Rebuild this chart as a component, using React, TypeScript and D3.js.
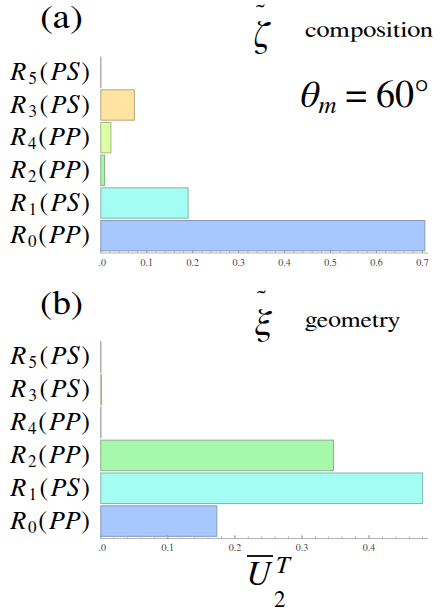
import React from "react";
import * as d3 from "d3";

// Categories from top to bottom
const resonanceIndex = ["5", "3", "4", "2", "1", "0"];
const resonanceType = ["PS", "PS", "PP", "PP", "PS", "PP"];
const barColors = ["#c8c8c8", "#FFE3A0", "#DDFFA3", "#A6F8AA", "#A3FDF2", "#A6C7FF"];

// Contributions to U2 bar (T)
const compositionValues = [0, 0.073, 0.022, 0.008, 0.19, 0.705];
const geometryValues = [0, 0.001, 0, 0.347, 0.48, 0.173];

const compositionTickValues = [0, 0.1, 0.2, 0.3, 0.4, 0.5, 0.6, 0.7];
const compositionTickLabels = [".0", "0.1", "0.2", "0.3", "0.4", "0.5", "0.6", "0.7"];
const geometryTickValues = [0, 0.1, 0.2, 0.3, 0.4];
const geometryTickLabels = [".0", "0.1", "0.2", "0.3", "0.4"];

const serif = "FreeSerif, 'Liberation Serif', serif";

type PanelProps = {
  values: number[];
  xMax: number;
  tickValues: number[];
  tickLabels: string[];
  bandTop: number;
  bandBottom: number;
  axisY: number;
};

function Panel({ values, xMax, tickValues, tickLabels, bandTop, bandBottom, axisY }: PanelProps) {
  const x0 = 100.8;
  const x1 = 428;
  const x = d3.scaleLinear().domain([0, xMax]).range([x0, x1]);
  const y = d3
    .scaleBand<number>()
    .domain(d3.range(values.length))
    .range([bandTop, bandBottom])
    .paddingInner(0.07)
    .paddingOuter(0.035);
  const minorTicks = d3.range(0, xMax + 1e-9, 0.02);

  return (
    <g>
      {values.map((v, i) => {
        const fill = barColors[i];
        const stroke = d3.interpolateRgb(fill, "#6a6a6a")(0.5);
        return (
          <rect
            key={"bar" + i}
            x={x(0)}
            y={y(i)}
            width={Math.max(0.05, x(v) - x(0))}
            height={y.bandwidth()}
            fill={fill}
            stroke={v === 0 ? "#a8a8a8" : stroke}
            strokeWidth={v === 0 ? 1.3 : 1}
          />
        );
      })}
      {values.map((_, i) => (
        <text
          key={"lab" + i}
          x={10}
          y={(y(i) as number) + y.bandwidth() / 2 + 7.5}
          fontFamily={serif}
          fontSize={26}
          textLength={80}
          lengthAdjust="spacing"
        >
          <tspan fontStyle="italic">R</tspan>
          <tspan fontSize={17} dy={4}>{resonanceIndex[i]}</tspan>
          <tspan dy={-4}>(</tspan>
          <tspan fontStyle="italic">{resonanceType[i]}</tspan>
          <tspan>)</tspan>
        </text>
      ))}
      <line x1={x0} x2={x1} y1={axisY} y2={axisY} stroke="#b4b4b4" strokeWidth={1} />
      {minorTicks.map((t, i) => (
        <line
          key={"mt" + i}
          x1={x(t)}
          x2={x(t)}
          y1={axisY}
          y2={axisY - 2.2}
          stroke="#b4b4b4"
          strokeWidth={1}
        />
      ))}
      {tickValues.map((t, i) => (
        <line
          key={"t" + i}
          x1={x(t)}
          x2={x(t)}
          y1={axisY}
          y2={axisY - 3.5}
          stroke="#a0a0a0"
          strokeWidth={1}
        />
      ))}
      {tickValues.map((t, i) => (
        <text
          key={"tl" + i}
          x={i === 0 ? x(t) + 1.5 : x(t)}
          y={axisY + 12.5}
          textAnchor="middle"
          fontFamily={serif}
          fontSize={10}
          fill="#444"
        >
          {tickLabels[i]}
        </text>
      ))}
    </g>
  );
}

export default function App() {
  return (
    <svg
      width={441}
      height={612}
      viewBox="0 0 441 612"
      style={{ position: "absolute", left: 0, top: 0, background: "#fff" }}
    >
      {/* panel (a) */}
      <text x={40} y={28} fontFamily={serif} fontSize={33} textLength={43} lengthAdjust="spacingAndGlyphs">
        (a)
      </text>
      <text x={254} y={47} fontFamily={serif} fontSize={38} fontStyle="italic">ζ</text>
      <text x={256} y={21} fontFamily={serif} fontSize={26}>˜</text>
      <text x={305} y={37} fontFamily={serif} fontSize={22} textLength={128} lengthAdjust="spacingAndGlyphs">
        composition
      </text>
      <text x={300} y={107} fontFamily={serif} fontSize={38}>
        <tspan fontStyle="italic">θ</tspan>
        <tspan fontStyle="italic" fontSize={25} dy={6}>m</tspan>
        <tspan dy={-6} dx={9}>=</tspan>
        <tspan dx={9}>60°</tspan>
      </text>
      <Panel
        values={compositionValues}
        xMax={0.712}
        tickValues={compositionTickValues}
        tickLabels={compositionTickLabels}
        bandTop={56}
        bandBottom={252}
        axisY={253}
      />

      {/* panel (b) */}
      <text x={40} y={314} fontFamily={serif} fontSize={33} textLength={43} lengthAdjust="spacingAndGlyphs">
        (b)
      </text>
      <text x={255} y={335} fontFamily={serif} fontSize={38} fontStyle="italic">ξ</text>
      <text x={257} y={307} fontFamily={serif} fontSize={26}>˜</text>
      <text x={305} y={327} fontFamily={serif} fontSize={22} textLength={95} lengthAdjust="spacingAndGlyphs">
        geometry
      </text>
      <Panel
        values={geometryValues}
        xMax={0.488}
        tickValues={geometryTickValues}
        tickLabels={geometryTickLabels}
        bandTop={340.5}
        bandBottom={537.5}
        axisY={538.5}
      />

      {/* axis title */}
      <line x1={247} x2={273} y1={556} y2={556} stroke="#000" strokeWidth={1.8} />
      <text x={246} y={585} fontFamily={serif} fontSize={34} fontStyle="italic">U</text>
      <text x={275} y={573} fontFamily={serif} fontSize={25} fontStyle="italic">T</text>
      <text x={274} y={607} fontFamily={serif} fontSize={23}>2</text>
    </svg>
  );
}
